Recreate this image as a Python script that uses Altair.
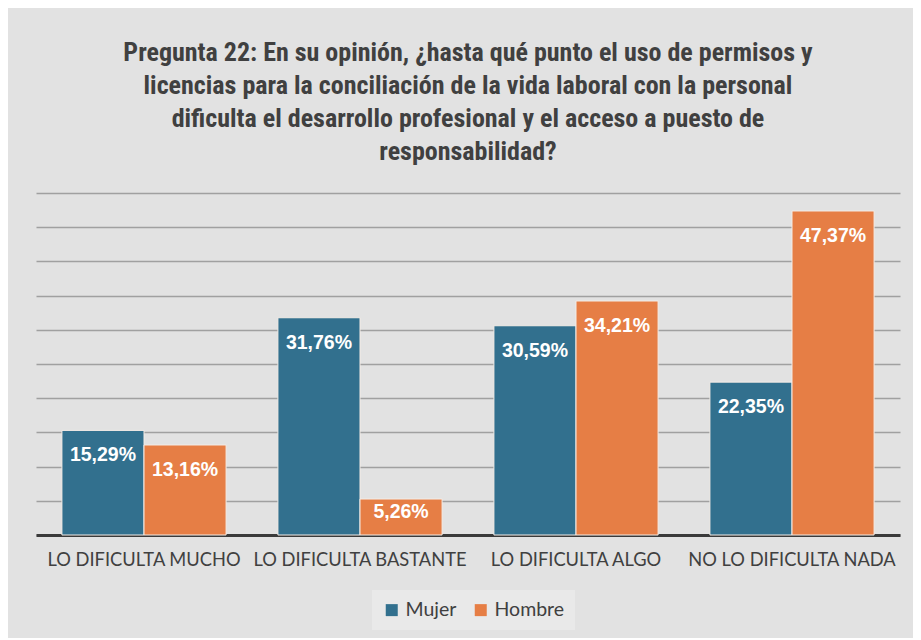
import altair as alt
import pandas as pd

categories = ["LO DIFICULTA MUCHO", "LO DIFICULTA BASTANTE", "LO DIFICULTA ALGO", "NO LO DIFICULTA NADA"]
series = ["Mujer", "Hombre"]
mujer = [15.29, 31.76, 30.59, 22.35]
hombre = [13.16, 5.26, 34.21, 47.37]
colors = ["#32708E", "#E67E45"]
title_lines = [
    "Pregunta 22: En su opinión, ¿hasta qué punto el uso de permisos y",
    "licencias para la conciliación de la vida laboral con la personal",
    "dificulta el desarrollo profesional y el acceso a puesto de",
    "responsabilidad?",
]

rows = []
for c, m, h in zip(categories, mujer, hombre):
    for s, v in zip(series, [m, h]):
        rows.append({"cat": c, "serie": s, "v": v,
                     "lbl": f"{v:.2f}".replace(".", ",") + "%"})
df = pd.DataFrame(rows)

font_title = "Liberation Sans Narrow, Roboto Condensed, Arial Narrow, Roboto, sans-serif"
font_axis = "Lato, sans-serif"

yaxis = alt.Axis(values=list(range(0, 55, 5)), labels=False, ticks=False, grid=True,
                 domain=False, gridColor="#a0a0a0", gridWidth=1.5)
yscale = alt.Scale(domain=[0, 50], nice=False)

x = alt.X("cat:N", sort=categories, title=None,
          scale=alt.Scale(paddingInner=0.24, paddingOuter=0.12),
          axis=alt.Axis(labelAngle=0, labelFontSize=18.3, labelColor="#404040",
                        labelFont=font_axis, ticks=False, labelPadding=16, labelLimit=0,
                        domainColor="#3a3a3a", domainWidth=3, grid=False))
xo = alt.XOffset("serie:N", sort=series, scale=alt.Scale(paddingInner=0, paddingOuter=0))

bars = alt.Chart(df).mark_bar(stroke="#f4ece6", strokeWidth=1).encode(
    x=x, xOffset=xo,
    y=alt.Y("v:Q", title=None, scale=yscale, axis=yaxis),
    color=alt.Color("serie:N", sort=series,
                    scale=alt.Scale(domain=series, range=colors),
                    legend=alt.Legend(title=None, orient="none", direction="horizontal",
                                      legendX=336, legendY=397,
                                      symbolType="square",
                                      symbolSize=144, labelFontSize=19.5, labelColor="#404040",
                                      labelFont=font_axis, columnPadding=14,
                                      fillColor="#e9e9e9", padding=10,
                                      symbolStrokeWidth=0)),
)

labels = alt.Chart(df).transform_calculate(
    ly="max(datum.v, 7)"
).mark_text(color="white", fontSize=19.5, fontWeight="bold", font="Liberation Sans, Arial",
            dy=25, baseline="middle").encode(
    x=alt.X("cat:N", sort=categories), xOffset=xo,
    y=alt.Y("ly:Q", title=None, scale=yscale, axis=yaxis), text="lbl:N")

chart = (bars + labels).properties(
    width=864, height=342,
    background="#e2e2e2",
    padding={"left": 28, "top": 32, "right": 13, "bottom": 8},
    title=alt.TitleParams(text=title_lines, fontSize=26, font=font_title, fontWeight="bold",
                          color="#404040", lineHeight=33, anchor="middle", offset=28),
).configure_view(stroke=None)

chart.save("out.html", embed_options={"renderer": "svg", "actions": False})
